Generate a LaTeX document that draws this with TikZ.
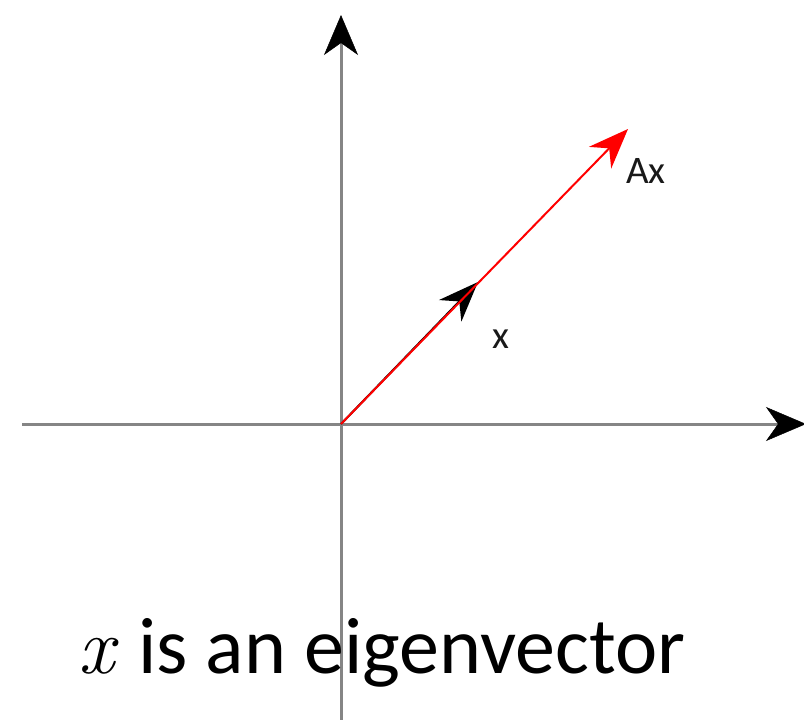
\documentclass[tikz,border=0pt]{standalone}
\usepackage{fontspec}
\setmainfont{Carlito}
\newfontfamily\lmfont{Latin Modern Roman}
\usetikzlibrary{arrows.meta}
\begin{document}
\begin{tikzpicture}[x=1pt,y=-1pt,
  axis/.style={draw=black!48, line width=3pt, -{Stealth[length=40pt,width=34pt,inset=12pt,color=black,fill=black,line width=0.5pt]}},
  vec/.style={line width=2pt, -{Stealth[length=40pt,width=31pt,inset=13pt]}},
  lbl/.style={font=\fontsize{39}{42}\selectfont, text=black!90, inner sep=0pt}]
\useasboundingbox (0,0) rectangle (804,720);
\fill[white] (0,0) rectangle (804,720);
\coordinate (O) at (341,424);
\coordinate (yb) at (341,722);
\coordinate (yt) at (341,15);
\coordinate (xl) at (22,424);
\coordinate (xr) at (806,424);
\coordinate (xt) at (478,282);
\coordinate (axt) at (628,129);
\draw[axis] (yb) -- (yt);
\draw[axis] (xl) -- (xr);
\draw[vec, black] (O) -- (xt);
\draw[vec, red] (O) -- (axt);
\node[lbl, anchor=base west] (lAx) at (626,183) {Ax};
\node[lbl, anchor=base west] (lx) at (492,348) {x};
\node[anchor=base west, inner sep=0pt, font=\fontsize{80}{90}\selectfont] (cx) at (78,673) {\lmfont\itshape x};
\node[anchor=base west, inner sep=0pt, font=\fontsize{80}{90}\selectfont] (cap) at (138,673) {is an eigenvector};
\end{tikzpicture}
\end{document}
